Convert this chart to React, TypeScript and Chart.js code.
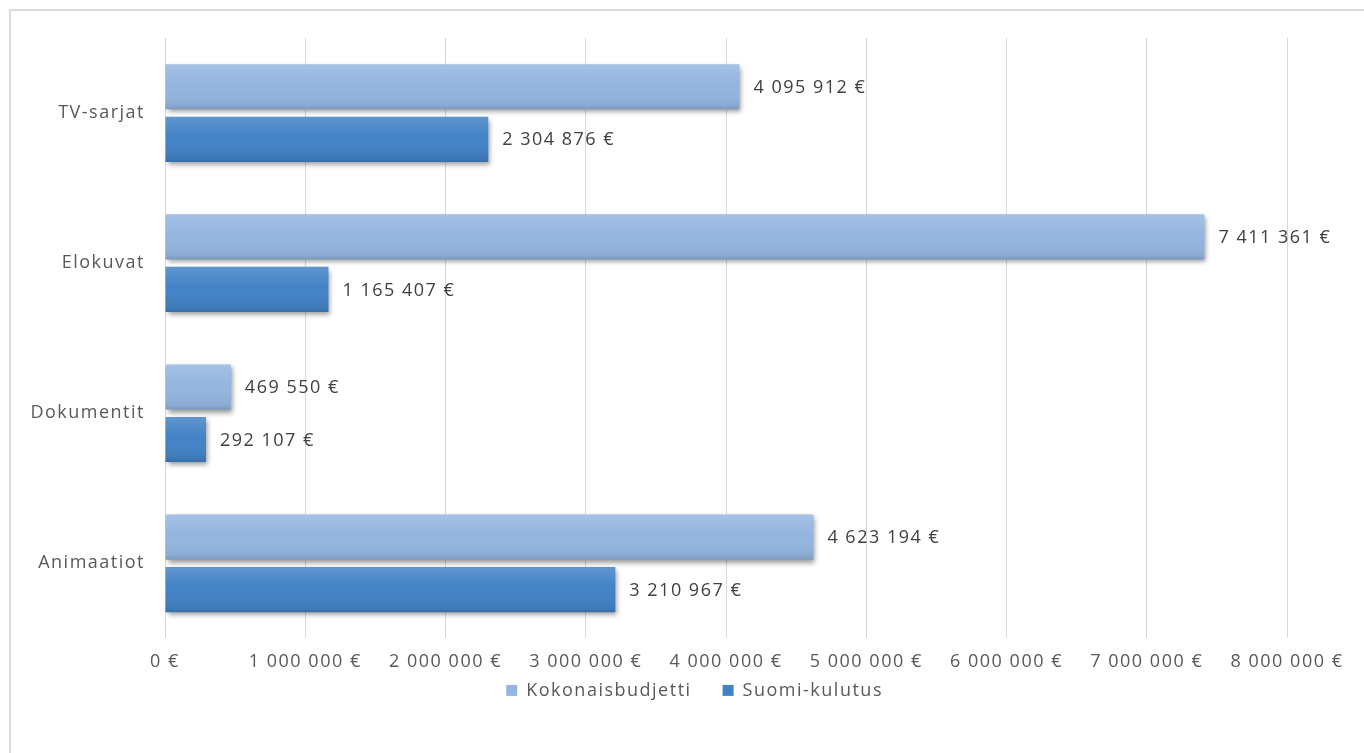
import React, { useEffect, useRef } from "react";
import { Chart, registerables } from "chart.js";

Chart.register(...registerables);

const categories = ["TV-sarjat", "Elokuvat", "Dokumentit", "Animaatiot"];
const seriesNames = ["Kokonaisbudjetti", "Suomi-kulutus"];
const kokonaisbudjetti = [4095912, 7411361, 469550, 4623194];
const suomiKulutus = [2304876, 1165407, 292107, 3210967];
const axisMin = 0;
const axisMax = 8000000;
const axisStep = 1000000;

const FONT = "'Open Sans', 'Segoe UI', sans-serif";
const SPACING = "1.5px";

const fmt = (v: number) =>
  String(Math.round(v)).replace(/\B(?=(\d{3})+(?!\d))/g, " ") + " €";

const spacingPlugin = {
  id: "spacing",
  beforeUpdate(chart: any) {
    chart.ctx.letterSpacing = SPACING;
  },
  beforeLayout(chart: any) {
    chart.ctx.letterSpacing = SPACING;
  },
  beforeDraw(chart: any) {
    chart.ctx.letterSpacing = SPACING;
  },
};

const barStylePlugin = {
  id: "barStyle",
  beforeDatasetsDraw(chart: any) {
    const ctx = chart.ctx;
    ctx.save();
    ctx.shadowColor = "rgba(0,0,0,0.4)";
    ctx.shadowBlur = 5;
    ctx.shadowOffsetX = 2;
    ctx.shadowOffsetY = 3;
  },
  afterDatasetsDraw(chart: any) {
    const ctx = chart.ctx;
    ctx.restore();
    ctx.save();
    chart.data.datasets.forEach((ds: any, di: number) => {
      const meta = chart.getDatasetMeta(di);
      meta.data.forEach((el: any, i: number) => {
        const p = el.getProps(["x", "y", "base", "height"], true);
        const left = Math.min(p.base, p.x);
        const w = Math.abs(p.x - p.base);
        const top = p.y - p.height / 2;
        const g = ctx.createLinearGradient(0, top, 0, top + p.height);
        g.addColorStop(0, "rgba(255,255,255,0.16)");
        g.addColorStop(0.45, "rgba(255,255,255,0.0)");
        g.addColorStop(0.9, "rgba(0,0,0,0.06)");
        g.addColorStop(1, "rgba(0,0,0,0.16)");
        ctx.fillStyle = g;
        ctx.fillRect(left, top, w, p.height);
        ctx.letterSpacing = SPACING;
        ctx.font = `18px ${FONT}`;
        ctx.fillStyle = "#404040";
        ctx.textAlign = "left";
        ctx.textBaseline = "middle";
        ctx.fillText(fmt(ds.data[i]), p.x + 14, p.y + 1);
      });
    });
    ctx.restore();
  },
};

// Legend drawn below the axis, centred slightly left of the plot centre
const legendPlugin = {
  id: "bottomLegend",
  afterDraw(chart: any) {
    const ctx = chart.ctx;
    const area = chart.chartArea;
    ctx.save();
    ctx.letterSpacing = SPACING;
    ctx.font = `18px ${FONT}`;
    ctx.textBaseline = "middle";
    ctx.textAlign = "left";
    const box = 11;
    const boxGap = 9;
    const itemGap = 31;
    const items = chart.data.datasets.map((ds: any) => ({
      text: ds.label,
      color: ds.backgroundColor,
      w: ctx.measureText(ds.label).width,
    }));
    const total =
      items.reduce((s: number, it: any) => s + box + boxGap + it.w, 0) +
      itemGap * (items.length - 1);
    const cx = area.left + (area.right - area.left) * 0.472;
    const cy = area.bottom + 52;
    let x = cx - total / 2;
    items.forEach((it: any) => {
      ctx.fillStyle = it.color;
      ctx.fillRect(x, cy - box / 2, box, box);
      x += box + boxGap;
      ctx.fillStyle = "#595959";
      ctx.fillText(it.text, x, cy);
      x += it.w + itemGap;
    });
    ctx.restore();
  },
};

export default function App() {
  const ref = useRef<HTMLCanvasElement>(null);

  useEffect(() => {
    if (!ref.current) return;
    const chart = new Chart(ref.current, {
      type: "bar",
      data: {
        labels: categories,
        datasets: [
          {
            label: seriesNames[0],
            data: kokonaisbudjetti,
            backgroundColor: "#94b5e0",
            borderWidth: 0,
            categoryPercentage: 0.7,
            barPercentage: 0.86,
          },
          {
            label: seriesNames[1],
            data: suomiKulutus,
            backgroundColor: "#4282c6",
            borderWidth: 0,
            categoryPercentage: 0.7,
            barPercentage: 0.86,
          },
        ],
      },
      options: {
        indexAxis: "y",
        animation: false,
        responsive: false,
        layout: { padding: { left: 0, right: 77, top: 38, bottom: 67 } },
        scales: {
          x: {
            min: axisMin,
            max: axisMax,
            grid: {
              color: "#d9d9d9",
              lineWidth: 1,
              drawTicks: false,
            },
            border: { display: false },
            ticks: {
              stepSize: axisStep,
              padding: 13,
              color: "#595959",
              font: { family: FONT, size: 18 },
              maxRotation: 0,
              callback: (v: any) => fmt(Number(v)),
            },
          },
          y: {
            grid: { display: false, drawTicks: false },
            border: { display: false },
            afterFit: (s: any) => {
              s.width = 165;
            },
            ticks: {
              padding: 20,
              color: "#595959",
              font: { family: FONT, size: 18 },
            },
          },
        },
        plugins: {
          legend: { display: false },
          tooltip: { enabled: false },
        },
      },
      plugins: [spacingPlugin, barStylePlugin, legendPlugin],
    } as any);
    return () => chart.destroy();
  }, []);

  return (
    <div
      style={{
        position: "fixed",
        left: 0,
        top: 0,
        width: 1364,
        height: 753,
        overflow: "hidden",
        background: "#fff",
      }}
    >
      <div
        style={{
          position: "absolute",
          left: 9,
          top: 9,
          width: 1400,
          height: 800,
          borderTop: "2px solid #dadada",
          borderLeft: "2px solid #dadada",
        }}
      />
      <canvas
        ref={ref}
        width={1364}
        height={753}
        style={{ position: "absolute", left: 0, top: 0 }}
      />
    </div>
  );
}
